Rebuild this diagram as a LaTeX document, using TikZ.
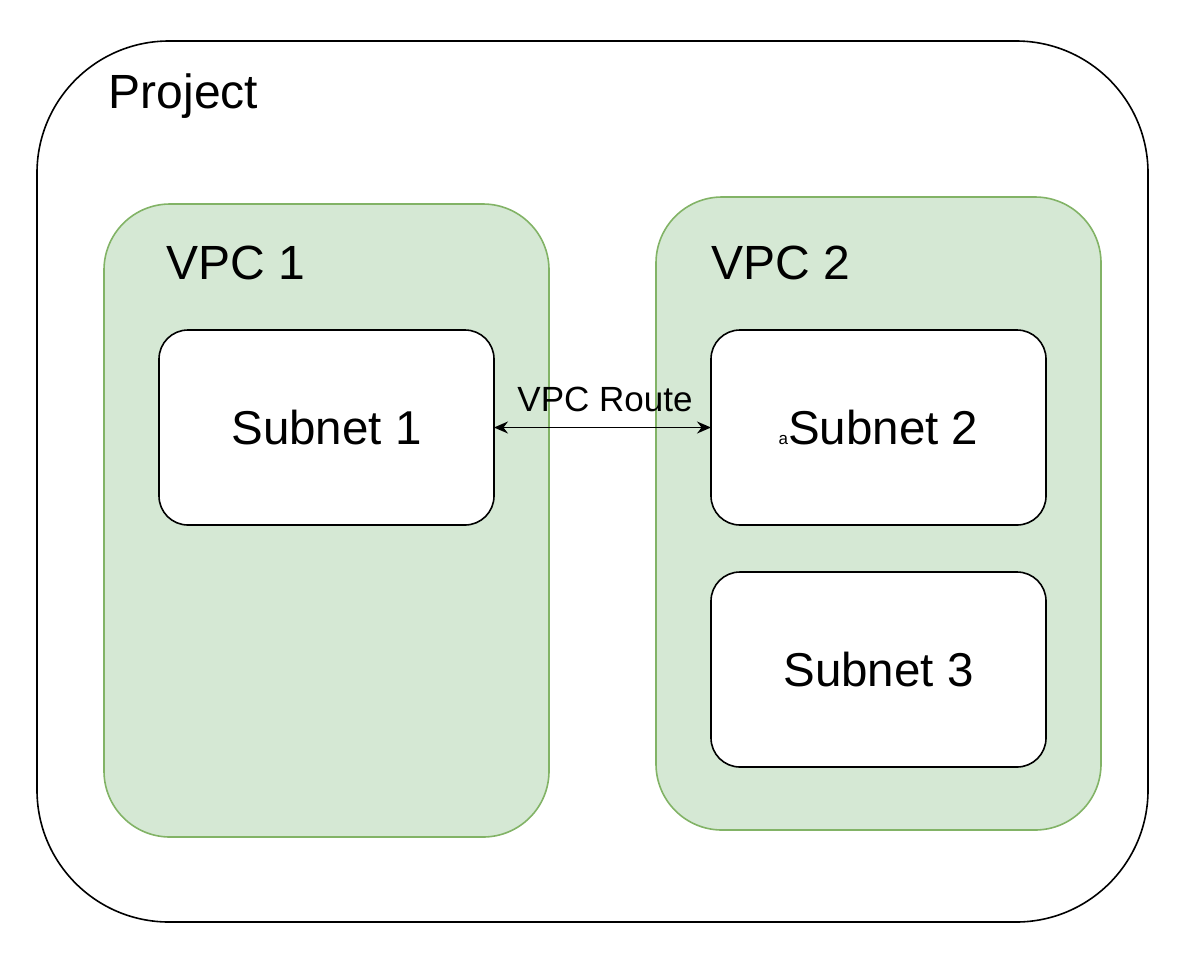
\documentclass[tikz,border=0pt]{standalone}
\usepackage{fontspec}
\setmainfont{Liberation Sans}
\usetikzlibrary{arrows.meta}
\definecolor{vpcfill}{HTML}{D5E8D4}
\definecolor{vpcline}{HTML}{82B366}
\begin{document}
\begin{tikzpicture}[x=1pt,y=-1pt,
  box/.style={rectangle,inner sep=0pt,outer sep=0pt},
  projectbox/.style={box,draw=black,line width=1.6pt,rounded corners=132pt,
    minimum width=1111pt,minimum height=881pt},
  vpcbox/.style={box,draw=vpcline,fill=vpcfill,line width=1.6pt,rounded corners=66pt,
    minimum width=445pt,minimum height=633pt},
  subnetbox/.style={box,draw=black,fill=white,line width=1.6pt,rounded corners=29pt,
    minimum width=335pt,minimum height=195pt,font=\fontsize{47.5}{57}\selectfont},
  biglabel/.style={anchor=base west,inner sep=0pt,font=\fontsize{48}{58}\selectfont},
  routelabel/.style={inner sep=0pt,font=\fontsize{35}{42}\selectfont},
  route/.style={{Stealth[length=14pt,width=12pt]}-{Stealth[length=14pt,width=12pt]},line width=1.5pt}
]
\useasboundingbox (0,0) rectangle (1190,970);

% outer project container
\node[projectbox] (project) at (592.5,481.5) {};
\node[biglabel] (projectlabel) at (108.5,108) {Project};

% the two VPCs
\node[vpcbox] (vpc1) at (326.5,520.5) {};
\node[vpcbox] (vpc2) at (878.5,513.5) {};
\node[biglabel] (vpc1label) at (166,279) {VPC 1};
\node[biglabel] (vpc2label) at (711,279) {VPC 2};

% subnets
\node[subnetbox] (subnet1) at (326.5,427.5) {Subnet 1};
\node[subnetbox] (subnet2) at (878.5,427.5) {{\fontsize{17}{20}\selectfont a}Subnet 2};
\node[subnetbox] (subnet3) at (878.5,669.5) {Subnet 3};

% route between VPC 1 and VPC 2
\node[routelabel] (routelabel) at (605,399) {VPC Route};
\draw[route] (subnet1.east) -- (subnet2.west);
\end{tikzpicture}
\end{document}
